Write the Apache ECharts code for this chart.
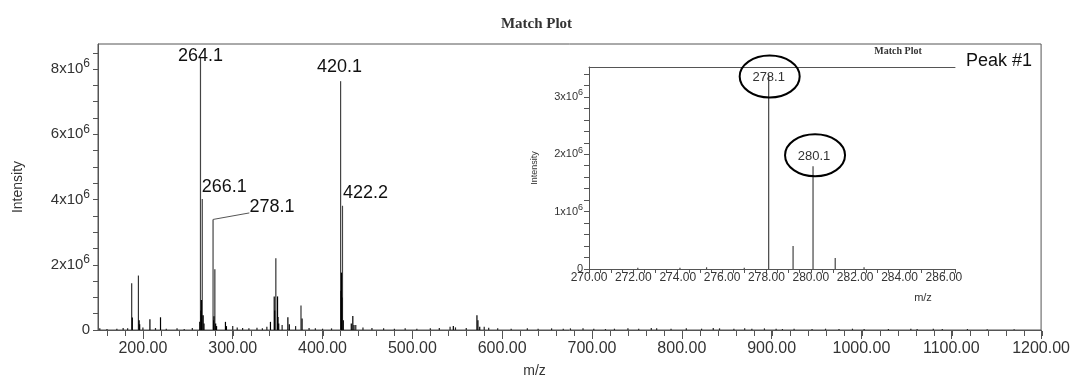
<!DOCTYPE html>
<html>
<head>
<meta charset="utf-8">
<script src="https://cdn.jsdelivr.net/npm/echarts@6/dist/echarts.min.js"></script>
<style>
    html, body { margin: 0; padding: 0; background: #fff; }
    #chart { width: 1073px; height: 383px; }
</style>
</head>
<body>
<div id="chart"></div>
<script>
/* labelled peaks of the full spectrum */
var mainPeakMz = [264.1, 266.1, 278.1, 420.1, 422.2];
var mainPeakInt = [8.38e6, 4.02e6, 3.39e6, 7.63e6, 3.81e6];
var mainPeakLabels = ['264.1', '266.1', '278.1', '420.1', '422.2'];

/* other tall lines */
var sidePeakMz = [187.5, 195.0, 280.1, 348.0, 376.0];
var sidePeakInt = [1.43e6, 1.67e6, 1.86e6, 2.20e6, 0.75e6];

/* dense black clusters at the bottom of the peaks */
var clusterMz = [188.2, 195.8, 196.4, 207.8, 219.6, 263.3, 264.6, 265.1, 265.6, 267.1, 268.0,
    278.8, 279.1, 281.0, 282.0, 291.9, 293.0, 342.0, 346.2, 346.7, 349.9, 350.4, 351.2,
    361.4, 363.0, 377.2, 420.6, 421.1, 421.6, 423.1, 432.0, 433.7, 435.0, 545.6, 571.9, 573.0, 575.0];
var clusterInt = [0.38e6, 0.30e6, 0.18e6, 0.33e6, 0.39e6, 0.25e6, 0.60e6, 0.92e6, 0.45e6, 0.45e6, 0.20e6,
    0.30e6, 0.42e6, 0.20e6, 0.12e6, 0.25e6, 0.12e6, 0.25e6, 1.03e6, 0.60e6, 1.03e6, 0.40e6, 0.20e6,
    0.39e6, 0.18e6, 0.35e6, 1.20e6, 1.76e6, 1.00e6, 0.30e6, 0.20e6, 0.43e6, 0.15e6, 0.12e6, 0.45e6, 0.30e6, 0.10e6];

/* baseline noise */
var noiseMz = [152, 160, 171, 178, 183, 200, 214, 226, 238, 246, 255, 300, 305, 311, 318, 327, 333, 338,
    355, 370, 385, 392, 400, 410, 437, 445, 455, 468, 480, 492, 505, 520, 530, 542, 548, 560, 580, 585,
    595, 610, 628, 640, 655, 668, 676, 690, 702, 715, 725, 740, 752, 766, 772, 788, 805, 822, 835, 842,
    858, 870, 878, 892, 905, 912, 925, 945, 960, 975, 990, 1003, 1030, 1055, 1062, 1080, 1090, 1118, 1140, 1170];
var noiseInt = [0.05e6, 0.03e6, 0.04e6, 0.06e6, 0.05e6, 0.08e6, 0.06e6, 0.04e6, 0.05e6, 0.03e6, 0.06e6, 0.12e6,
    0.08e6, 0.06e6, 0.05e6, 0.07e6, 0.05e6, 0.10e6, 0.15e6, 0.12e6, 0.06e6, 0.05e6, 0.04e6, 0.05e6, 0.15e6,
    0.08e6, 0.06e6, 0.05e6, 0.04e6, 0.05e6, 0.04e6, 0.05e6, 0.06e6, 0.10e6, 0.08e6, 0.06e6, 0.10e6, 0.07e6,
    0.05e6, 0.04e6, 0.05e6, 0.04e6, 0.05e6, 0.04e6, 0.05e6, 0.05e6, 0.04e6, 0.03e6, 0.04e6, 0.05e6, 0.04e6,
    0.06e6, 0.05e6, 0.04e6, 0.05e6, 0.04e6, 0.06e6, 0.05e6, 0.04e6, 0.05e6, 0.04e6, 0.05e6, 0.04e6, 0.03e6,
    0.04e6, 0.03e6, 0.04e6, 0.03e6, 0.04e6, 0.03e6, 0.03e6, 0.04e6, 0.03e6, 0.04e6, 0.03e6, 0.03e6, 0.02e6, 0.02e6];

/* zoomed inset 270-286 */
var insetMz = [272.2, 274.1, 275.3, 277.0, 278.1, 279.2, 280.1, 281.1, 282.4];
var insetInt = [0.02e6, 0.02e6, 0.03e6, 0.02e6, 3.39e6, 0.40e6, 1.79e6, 0.19e6, 0.03e6];
var insetLabels = ['', '', '', '', '278.1', '', '280.1', '', ''];

/* tick labels */
var mainXLabels = [200, 300, 400, 500, 600, 700, 800, 900, 1000, 1100, 1200];
var mainYLabels = [0, 2e6, 4e6, 6e6, 8e6];
var insetXLabels = [270, 272, 274, 276, 278, 280, 282, 284, 286];
var insetYLabels = [0, 1e6, 2e6, 3e6];

function range(a, b, step) {
    var out = [];
    for (var v = a; v <= b + 1e-9; v += step) out.push(Math.round(v * 1000) / 1000);
    return out;
}

var axisGray = '#555';
var txt = '#333';
var sans = 'Liberation Sans, Arial';

/* where each peak label sits relative to its line */
var mainLabelOffset = {'264.1': [0, 13], '266.1': [22, 2], '278.1': [59, 2], '420.1': [-1, 0], '422.2': [23, 1]};
var insetLabelOffset = {'278.1': [0, 14], '280.1': [1, 2]};
/* ellipse centre relative to the peak top, px */
var ringShift = {'278.1': [1, 2], '280.1': [2, -11]};

var mainData = [];
mainPeakMz.forEach(function (mz, i) {
    var lab = mainPeakLabels[i];
    mainData.push({
        value: [mz, mainPeakInt[i]],
        itemStyle: {color: '#444'},
        label: {show: true, position: 'top', offset: mainLabelOffset[lab], formatter: lab,
            fontSize: 18, color: '#111', fontFamily: sans}
    });
});
sidePeakMz.forEach(function (mz, i) {
    mainData.push({value: [mz, sidePeakInt[i]], itemStyle: {color: '#333'}});
});
noiseMz.forEach(function (mz, i) {
    mainData.push({value: [mz, noiseInt[i]], itemStyle: {color: '#222'}});
});
clusterMz.forEach(function (mz, i) {
    mainData.push({value: [mz, clusterInt[i]], itemStyle: {color: '#000'}});
});

var insetData = insetMz.map(function (mz, i) {
    var lab = insetLabels[i];
    var item = {value: [mz, insetInt[i]]};
    if (lab) {
        item.label = {show: true, position: 'top', offset: insetLabelOffset[lab], formatter: lab,
            fontSize: 13, color: txt, fontFamily: sans};
    }
    return item;
});

function sciLabel(v) {
    if (v === 0) return '0';
    return '{b|' + Math.round(v / 1e6) + 'x10}{s|6}';
}

var chart = echarts.init(document.getElementById('chart'));
var option = {
    animation: false,
    title: {
        text: 'Match Plot', left: 'center', top: 12,
        textStyle: {fontFamily: 'Liberation Serif', fontSize: 15, fontWeight: 'bold', color: txt}
    },
    grid: [
        {left: 98, right: 31, top: 44, bottom: 52, show: true, borderColor: axisGray, borderWidth: 1},
        {left: 589, width: 366, top: 67, bottom: 114},
        {left: 98, right: 31, top: 44, bottom: 52}
    ],
    xAxis: [
        {
            type: 'value', gridIndex: 0, min: 150, max: 1200,
            splitLine: {show: false},
            axisLine: {lineStyle: {color: axisGray}},
            axisTick: {customValues: mainXLabels, length: 9, lineStyle: {color: axisGray}},
            axisLabel: {customValues: mainXLabels, fontSize: 16, color: txt, margin: 11, fontFamily: sans,
                formatter: function (v) { return v.toFixed(2); }},
            name: 'm/z', nameLocation: 'middle', nameGap: 34,
            nameTextStyle: {fontSize: 14, color: txt, fontFamily: sans, padding: [0, 70, 0, 0]}
        },
        {
            type: 'value', gridIndex: 1, min: 270, max: 286.5,
            splitLine: {show: false},
            axisLine: {lineStyle: {color: axisGray}},
            axisTick: {customValues: range(270, 286.5, 0.5), length: 4, lineStyle: {color: axisGray}},
            axisLabel: {customValues: insetXLabels, fontSize: 12, color: txt, margin: 3, fontFamily: sans,
                formatter: function (v) { return v.toFixed(2); }}
        },
        {
            type: 'value', gridIndex: 1, min: 270, max: 286.5, position: 'top',
            splitLine: {show: false},
            axisLine: {lineStyle: {color: axisGray}},
            axisTick: {show: false}, axisLabel: {show: false}
        },
        {
            type: 'value', gridIndex: 2, min: 150, max: 1200,
            splitLine: {show: false}, axisLine: {show: false},
            axisTick: {customValues: range(160, 1200, 20), length: 5, lineStyle: {color: axisGray}},
            axisLabel: {show: false}
        }
    ],
    yAxis: [
        {
            type: 'value', gridIndex: 0, min: 0, max: 8.77e6,
            splitLine: {show: false},
            axisLine: {lineStyle: {color: axisGray}},
            axisTick: {customValues: range(0, 8.5e6, 0.5e6), length: 5, lineStyle: {color: axisGray}},
            axisLabel: {customValues: mainYLabels, fontSize: 15, color: txt, margin: 8, fontFamily: sans,
                formatter: sciLabel,
                rich: {
                    b: {fontSize: 15, color: txt, fontFamily: sans},
                    s: {fontSize: 12, color: txt, fontFamily: sans, padding: [0, 0, 10, 0]}
                }},
            name: 'Intensity', nameLocation: 'middle', nameGap: 73,
            nameTextStyle: {fontSize: 14, color: txt, fontFamily: sans}
        },
        {
            type: 'value', gridIndex: 1, min: 0, max: 3.52e6,
            splitLine: {show: false},
            axisLine: {lineStyle: {color: axisGray}},
            axisTick: {customValues: range(0, 3.4e6, 0.2e6), length: 5, lineStyle: {color: axisGray}},
            axisLabel: {customValues: insetYLabels, fontSize: 11, color: txt, margin: 6, fontFamily: sans,
                formatter: sciLabel,
                rich: {
                    b: {fontSize: 11, color: txt, fontFamily: sans},
                    s: {fontSize: 9, color: txt, fontFamily: sans, padding: [0, 0, 8, 0]}
                }},
            name: 'Intensity', nameLocation: 'middle', nameGap: 50,
            nameTextStyle: {fontSize: 9, color: txt, fontFamily: sans}
        },
        {type: 'value', gridIndex: 2, show: false}
    ],
    series: [
        {
            type: 'bar', xAxisIndex: 0, yAxisIndex: 0, barWidth: 1.2,
            data: mainData,
            markLine: {
                silent: true, symbol: ['none', 'none'], label: {show: false},
                lineStyle: {color: axisGray, width: 1, type: 'solid'},
                data: [[{coord: [278.1, 3.39e6]}, {coord: [318.5, 3.59e6]}]]
            }
        },
        {
            type: 'bar', xAxisIndex: 1, yAxisIndex: 1, barWidth: 1.2,
            itemStyle: {color: '#444'},
            data: insetData
        }
    ]
};
chart.setOption(option);

/* text annotations and the rings round the inset labels */
var extras = [
    {type: 'text', x: 898, y: 51, style: {text: 'Match Plot', align: 'center', verticalAlign: 'middle',
        font: 'bold 10px "Liberation Serif"', fill: txt}},
    {type: 'text', x: 966, y: 61, style: {text: 'Peak #1', align: 'left', verticalAlign: 'middle',
        font: '18px "Liberation Sans"', fill: '#111'}},
    {type: 'text', x: 923, y: 298, style: {text: 'm/z', align: 'center', verticalAlign: 'middle',
        font: '11px "Liberation Sans"', fill: txt}}
];
insetMz.forEach(function (mz, i) {
    var lab = insetLabels[i];
    if (!lab) return;
    var p = chart.convertToPixel({xAxisIndex: 1, yAxisIndex: 1}, [mz, insetInt[i]]);
    var d = ringShift[lab];
    extras.push({type: 'ellipse', z: 100, silent: true,
        shape: {cx: p[0] + d[0], cy: p[1] + d[1], rx: 30, ry: 21},
        style: {fill: 'none', stroke: '#000', lineWidth: 2}});
});
chart.setOption({graphic: extras});
</script>
</body>
</html>
